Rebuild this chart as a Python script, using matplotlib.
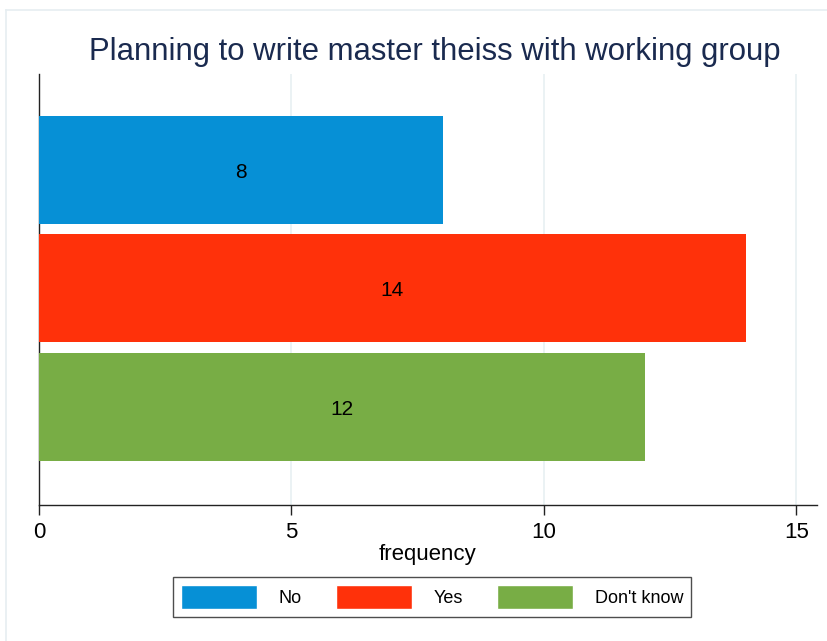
import matplotlib.pyplot as plt
from matplotlib.patches import Patch
from matplotlib.lines import Line2D

plt.rcParams['font.family'] = ['Liberation Sans', 'DejaVu Sans']

categories = ["No", "Yes", "Don't know"]
counts = [8, 14, 12]
colors = ["#0690d6", "#ff310a", "#78ad45"]
positions = [0, 1, 2]

fig = plt.figure(figsize=(8.28, 6.41), dpi=100)
W, H = 828, 641
ax = fig.add_axes([39 / W, 1 - 505 / H, (817 - 39) / W, (505 - 74) / H])

# light outer frame like the Stata graph region
fig.add_artist(Line2D([6 / W, 6 / W], [0, 1 - 10 / H], color="#e6eef1", lw=1.2))
fig.add_artist(Line2D([6 / W, 1], [1 - 10 / H, 1 - 10 / H], color="#e6eef1", lw=1.2))

ax.barh(positions, counts, height=0.915, color=colors, zorder=3)
for p, c in zip(positions, counts):
    ax.text(c / 2, p + 0.02, str(c), ha="center", va="center", fontsize=15, color="black", zorder=4)

ax.set_xlim(0, 15.41)
ax.set_ylim(2.83, -0.81)
ax.set_xticks([0, 5, 10, 15])
ax.set_yticks([])
ax.xaxis.grid(True, color="#e8f0f2", lw=1.2, zorder=0)
for side in ("top", "right"):
    ax.spines[side].set_visible(False)
for side in ("left", "bottom"):
    ax.spines[side].set_color("#222222")
    ax.spines[side].set_linewidth(1.0)
ax.tick_params(axis="x", direction="out", length=7, width=1.0, labelsize=16, pad=5, color="#222222")

ax.set_xlabel("frequency", fontsize=16, labelpad=1)
fig.text(0.5 * (90 + 780) / W, 1 - 52 / H, "Planning to write master theiss with working group",
         ha="center", va="center", fontsize=22.4, color="#1a2a4f")

handles = [Patch(facecolor=c, edgecolor="white") for c in colors]
fig.legend(handles, categories, loc="center", bbox_to_anchor=(432 / W, 1 - 597 / H), ncol=3,
           fontsize=13, frameon=True, fancybox=False, edgecolor="#222222",
           handlelength=4.2, handleheight=1.6, columnspacing=1.9, handletextpad=1.2,
           borderpad=0.45)

fig.savefig("out.png", dpi=100, facecolor="white")
